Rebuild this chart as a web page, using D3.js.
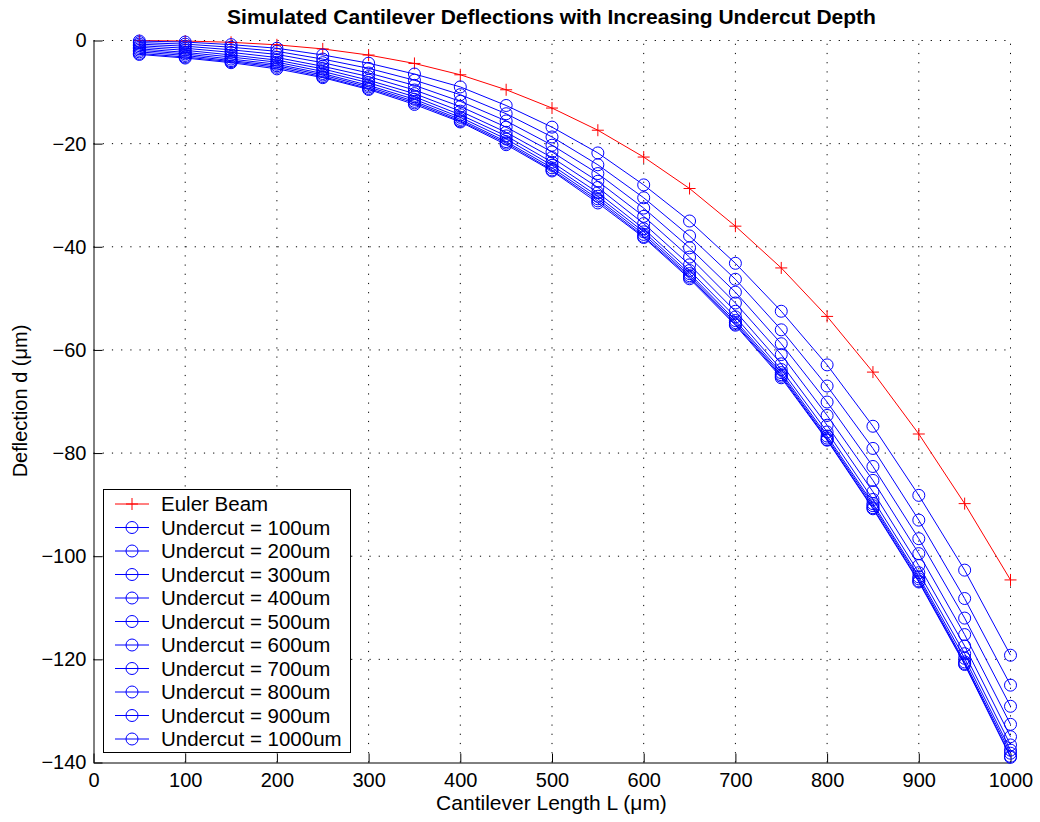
<!DOCTYPE html>
<meta charset="utf-8" />
<script src="https://d3js.org/d3.v7.min.js"></script>
<style>
  body { margin: 0; background: #fff; }
  svg text { font-family: "Liberation Sans", Arial, sans-serif; fill: #000; }
  .axis path, .axis line { stroke: #000; }
  .grid line { stroke: #000; stroke-dasharray: 1.2, 8; }
</style>
<svg width="1040" height="822"></svg>
<script>
  // cantilever lengths (um)
  var lengths = [50, 100, 150, 200, 250, 300, 350, 400, 450, 500,
                 550, 600, 650, 700, 750, 800, 850, 900, 950, 1000];

  var eulerBeam = [-0.01, -0.1, -0.35, -0.84, -1.63, -2.82, -4.45, -6.65, -9.55, -13.1,
                   -17.4, -22.6, -28.7, -36.0, -44.1, -53.5, -64.3, -76.3, -89.8, -104.6];

  var undercut100  = [-0.1, -0.3, -0.8, -1.5, -2.8, -4.4, -6.5, -9.0, -12.6, -16.8,
                      -21.8, -28.0, -35.0, -43.2, -52.5, -62.9, -74.8, -88.2, -102.7, -119.2];
  var undercut200  = [-0.4, -0.7, -1.3, -2.1, -3.6, -5.4, -7.7, -10.5, -14.2, -18.7,
                      -24.1, -30.5, -37.9, -46.3, -56.1, -67.0, -79.1, -93.0, -108.2, -125.0];
  var undercut300  = [-0.7, -1.1, -1.8, -2.7, -4.3, -6.3, -8.7, -11.8, -15.6, -20.3,
                      -25.8, -32.5, -40.2, -48.8, -58.8, -70.1, -82.6, -96.6, -112.0, -129.1];
  var undercut400  = [-1.0, -1.5, -2.3, -3.3, -5.0, -7.0, -9.6, -12.8, -16.8, -21.6,
                      -27.3, -34.1, -42.0, -50.9, -60.9, -72.7, -85.3, -99.5, -115.2, -132.6];
  var undercut500  = [-1.3, -1.9, -2.8, -3.8, -5.5, -7.7, -10.3, -13.7, -17.8, -22.7,
                      -28.5, -35.5, -43.5, -52.5, -62.7, -74.6, -87.5, -101.8, -117.4, -135.0];
  var undercut600  = [-1.6, -2.3, -3.2, -4.2, -6.0, -8.2, -10.9, -14.4, -18.5, -23.6,
                      -29.5, -36.5, -44.6, -53.6, -63.8, -75.9, -89.0, -103.2, -118.9, -136.6];
  var undercut700  = [-1.9, -2.6, -3.6, -4.6, -6.4, -8.7, -11.4, -14.9, -19.1, -24.2,
                      -30.2, -37.1, -45.2, -54.3, -64.4, -76.7, -89.8, -104.0, -119.8, -137.6];
  var undercut800  = [-2.2, -2.9, -3.9, -4.9, -6.7, -9.0, -11.8, -15.3, -19.6, -24.7,
                      -30.7, -37.6, -45.6, -54.7, -64.8, -77.1, -90.2, -104.4, -120.5, -138.2];
  var undercut900  = [-2.5, -3.2, -4.1, -5.2, -7.0, -9.3, -12.1, -15.6, -19.9, -25.1,
                      -31.1, -38.0, -45.9, -55.0, -65.1, -77.4, -90.6, -104.8, -120.8, -138.8];
  var undercut1000 = [-2.7, -3.4, -4.3, -5.5, -7.2, -9.5, -12.4, -15.8, -20.2, -25.3,
                      -31.5, -38.2, -46.2, -55.2, -65.4, -77.5, -90.8, -105.0, -121.0, -139.0];

  var undercutSeries = [undercut100, undercut200, undercut300, undercut400, undercut500,
                        undercut600, undercut700, undercut800, undercut900, undercut1000];
  var legendLabels = ["Euler Beam", "Undercut = 100um", "Undercut = 200um", "Undercut = 300um",
                      "Undercut = 400um", "Undercut = 500um", "Undercut = 600um", "Undercut = 700um",
                      "Undercut = 800um", "Undercut = 900um", "Undercut = 1000um"];

  var xTicks = [0, 100, 200, 300, 400, 500, 600, 700, 800, 900, 1000];
  var yTicks = [-140, -120, -100, -80, -60, -40, -20, 0];

  var svg = d3.select("svg");
  var x = d3.scaleLinear().domain([0, 1000]).range([93.5, 1010.5]);
  var y = d3.scaleLinear().domain([-140, 0]).range([762.5, 40.5]);

  // dotted grid
  var grid = svg.append("g").attr("class", "grid");
  grid.selectAll(".gx").data(xTicks.slice(1)).enter().append("line")
    .attr("x1", function (d) { return x(d); }).attr("x2", function (d) { return x(d); })
    .attr("y1", y(-140)).attr("y2", y(0));
  grid.selectAll(".gy").data(yTicks.slice(1)).enter().append("line")
    .attr("y1", function (d) { return y(d); }).attr("y2", function (d) { return y(d); })
    .attr("x1", x(0)).attr("x2", x(1000));

  // axes (ticks inward)
  svg.append("g").attr("class", "axis")
    .attr("transform", "translate(0," + y(-140) + ")")
    .call(d3.axisBottom(x).tickValues(xTicks).tickFormat(d3.format("d"))
      .tickSize(-9).tickSizeOuter(0).tickPadding(10.5))
    .selectAll("text").style("font-size", "20px");
  svg.append("g").attr("class", "axis")
    .attr("transform", "translate(" + x(0) + ",0)")
    .call(d3.axisLeft(y).tickValues(yTicks).tickSize(-9).tickSizeOuter(0).tickPadding(7))
    .selectAll("text").style("font-size", "20px");

  var line = d3.line()
    .x(function (d, i) { return x(lengths[i]); })
    .y(function (d) { return y(d); });

  // Euler beam
  svg.append("path").datum(eulerBeam)
    .attr("d", line).attr("fill", "none").attr("stroke", "#ff0000").attr("stroke-width", 1);
  svg.append("g").selectAll("path").data(eulerBeam).enter().append("path")
    .attr("d", function (d, i) {
      var cx = x(lengths[i]), cy = y(d);
      return "M" + (cx - 6) + "," + cy + "H" + (cx + 6) + "M" + cx + "," + (cy - 6) + "V" + (cy + 6);
    })
    .attr("stroke", "#ff0000").attr("stroke-width", 1);

  // undercut series
  undercutSeries.forEach(function (s) {
    var g = svg.append("g");
    g.append("path").datum(s)
      .attr("d", line).attr("fill", "none").attr("stroke", "#0000ff").attr("stroke-width", 1);
    g.selectAll("circle").data(s).enter().append("circle")
      .attr("cx", function (d, i) { return x(lengths[i]); })
      .attr("cy", function (d) { return y(d); })
      .attr("r", 6).attr("fill", "none").attr("stroke", "#0000ff").attr("stroke-width", 1);
  });

  // legend
  var legend = svg.append("g");
  legend.append("rect").attr("x", 103.5).attr("y", 489.5).attr("width", 247).attr("height", 263)
    .attr("fill", "#fff").attr("stroke", "#000");
  legendLabels.forEach(function (label, i) {
    var cy = 504 + i * 23.5;
    var col = i === 0 ? "#ff0000" : "#0000ff";
    legend.append("line").attr("x1", 115).attr("x2", 149).attr("y1", cy).attr("y2", cy)
      .attr("stroke", col);
    if (i === 0) {
      legend.append("path")
        .attr("d", "M126," + cy + "H138M132," + (cy - 6) + "V" + (cy + 6))
        .attr("stroke", col);
    } else {
      legend.append("circle").attr("cx", 132).attr("cy", cy).attr("r", 6)
        .attr("fill", "none").attr("stroke", col);
    }
    legend.append("text").attr("x", 161).attr("y", cy).attr("dy", "0.35em")
      .style("font-size", "20.5px").text(label);
  });

  // titles
  svg.append("text").attr("x", 551.5).attr("y", 24).attr("text-anchor", "middle")
    .style("font-size", "21px").style("font-weight", "bold")
    .text("Simulated Cantilever Deflections with Increasing Undercut Depth");
  svg.append("text").attr("x", 551.5).attr("y", 810).attr("text-anchor", "middle")
    .style("font-size", "21px").text("Cantilever Length L (\u03bcm)");
  svg.append("text").attr("transform", "translate(27,401) rotate(-90)").attr("text-anchor", "middle")
    .style("font-size", "20px").text("Deflection d (\u03bcm)");
</script>
